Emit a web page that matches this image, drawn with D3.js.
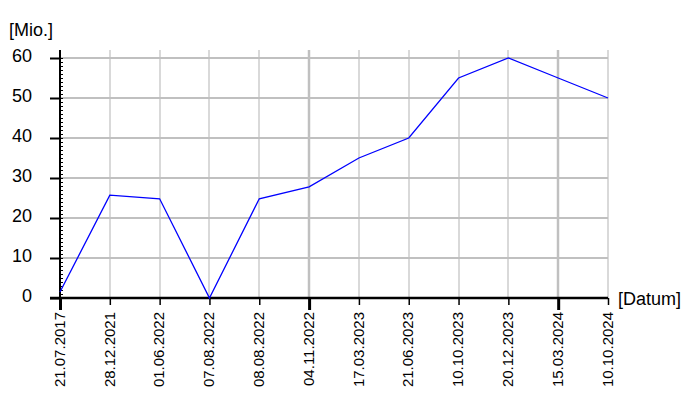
<!DOCTYPE html>
<html><head><meta charset="utf-8">
<script src="https://cdn.jsdelivr.net/npm/d3@7"></script>
<style>body{margin:0;background:#fff}svg{display:block}text{font-family:"Liberation Sans",Arial,sans-serif;fill:#000}</style>
</head><body><svg id="c" width="700" height="400"></svg>
<script>
const dates = ["21.07.2017","28.12.2021","01.06.2022","07.08.2022","08.08.2022","04.11.2022","17.03.2023","21.06.2023","10.10.2023","20.12.2023","15.03.2024","10.10.2024"];
const values = [1.5,25.7,24.8,0,24.8,27.8,35,40,55,60,55,50];
const yTicks = [0,10,20,30,40,50,60];
const yMinor = d3.range(0,61,1);
const yUnit = "[Mio.]";
const xUnit = "[Datum]";

const svg = d3.select("#c");
const L=60,R=608,T=58,B=298;
const x = d3.scalePoint().domain(dates).range([L,R]);
const y = d3.scaleLinear().domain([0,60]).range([B,T]);

// grid
const g = svg.append("g");
g.selectAll(".hg").data(yTicks.filter(d=>d>0)).join("line")
  .attr("x1",L).attr("x2",R).attr("y1",d=>y(d)).attr("y2",d=>y(d))
  .attr("stroke","#c0c0c0").attr("stroke-width",2);
g.selectAll(".vg").data(dates.slice(1)).join("line")
  .attr("x1",d=>Math.round(x(d))).attr("x2",d=>Math.round(x(d))).attr("y1",T-8).attr("y2",B)
  .attr("stroke","#c0c0c0").attr("stroke-width",(d,i)=>(i===4||i===9)?2.5:1.2);

// y axis
const ya = svg.append("g").attr("transform",`translate(${L},0)`)
  .call(d3.axisLeft(y).tickValues(yTicks).tickSize(10).tickPadding(13));
ya.select(".domain").remove();
ya.selectAll(".tick line").attr("stroke-width",2).attr("x2",0).attr("x1",-10);
ya.selectAll("text").attr("font-size",18).attr("dx",-5).attr("dy","0.22em");
svg.append("g").selectAll("line").data(yMinor).join("line")
  .attr("x1",L).attr("x2",L+3).attr("y1",d=>Math.round(y(d))+0.5).attr("y2",d=>Math.round(y(d))+0.5)
  .attr("stroke","#000").attr("stroke-width",1);
svg.append("line").attr("x1",L).attr("x2",L).attr("y1",T-8).attr("y2",B+1)
  .attr("stroke","#000").attr("stroke-width",2);

// x axis
const xa = svg.append("g").attr("transform",`translate(0,${B})`)
  .call(d3.axisBottom(x).tickSize(7).tickPadding(6));
xa.select(".domain").remove();
xa.selectAll(".tick line").attr("stroke-width",(d,i)=>(i===0||i===5||i===10)?3:1.5)
  .attr("y2",(d,i)=>(i===0||i===5||i===10)?12:7);
xa.selectAll("text").attr("font-size",15)
  .attr("transform","rotate(-90)").attr("text-anchor","end")
  .attr("x",-14).attr("y",-1).attr("dy","0.35em");
svg.append("line").attr("x1",L-10).attr("x2",R).attr("y1",B).attr("y2",B)
  .attr("stroke","#000").attr("stroke-width",2.5);

// line
svg.append("path").datum(values)
  .attr("d",d3.line().x((d,i)=>x(dates[i])).y(d=>y(d)))
  .attr("fill","none").attr("stroke","#0000ff").attr("stroke-width",1.3);

svg.append("text").attr("x",9).attr("y",36).attr("font-size",18).text(yUnit);
svg.append("text").attr("x",618).attr("y",305).attr("font-size",18).text(xUnit);
</script></body></html>
